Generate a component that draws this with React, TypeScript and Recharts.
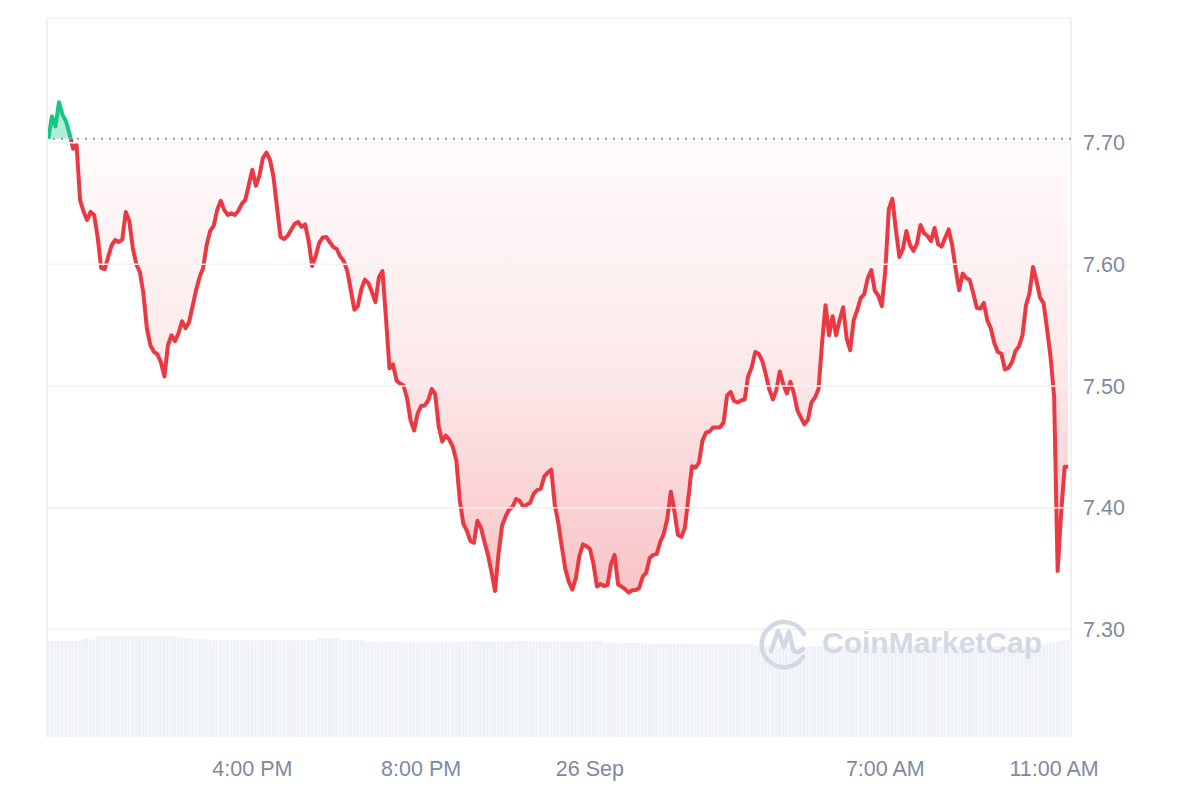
import { ComposedChart, Area, Bar, XAxis, YAxis, ReferenceLine } from 'recharts'

// 5-minute candles, 11:10 AM 25 Sep -> 11:20 AM 26 Sep (minutes since 00:00 25 Sep)
const START_MIN = 670
const STEP_MIN = 5

const prices = [
  7.7033, 7.7217, 7.7134, 7.7332, 7.7231, 7.7176, 7.7074, 7.6951, 7.6984, 7.6530,
  7.6434, 7.6365, 7.6431, 7.6406, 7.6225, 7.5970, 7.5961, 7.6060, 7.6159, 7.6200,
  7.6184, 7.6204, 7.6431, 7.6357, 7.6134, 7.6002, 7.5937, 7.5763, 7.5475, 7.5335,
  7.5281, 7.5261, 7.5195, 7.5079, 7.5335, 7.5417, 7.5368, 7.5434, 7.5533, 7.5475,
  7.5524, 7.5656, 7.5788, 7.5895, 7.5970, 7.6159, 7.6275, 7.6316, 7.6448, 7.6522,
  7.6448, 7.6406, 7.6419, 7.6406, 7.6439, 7.6497, 7.6530, 7.6654, 7.6777, 7.6646,
  7.6728, 7.6876, 7.6918, 7.6860, 7.6720, 7.6472, 7.6225, 7.6209, 7.6233, 7.6283,
  7.6332, 7.6349, 7.6308, 7.6328, 7.6192, 7.5986, 7.6068, 7.6176, 7.6221, 7.6225,
  7.6184, 7.6143, 7.6126, 7.6064, 7.6027, 7.5945, 7.5788, 7.5627, 7.5656, 7.5796,
  7.5875, 7.5846, 7.5772, 7.5689, 7.5895, 7.5945, 7.5557, 7.5145, 7.5178, 7.5046,
  7.5021, 7.5005, 7.4898, 7.4716, 7.4634, 7.4774, 7.4836, 7.4840, 7.4881, 7.4976,
  7.4931, 7.4667, 7.4543, 7.4593, 7.4560, 7.4500, 7.4387, 7.4057, 7.3867, 7.3810,
  7.3727, 7.3711, 7.3892, 7.3834, 7.3719, 7.3612, 7.3472, 7.3315, 7.3620, 7.3851,
  7.3928, 7.3983, 7.4007, 7.4071, 7.4057, 7.4010, 7.4024, 7.4040, 7.4115, 7.4145,
  7.4156, 7.4255, 7.4288, 7.4312, 7.4024, 7.3875, 7.3678, 7.3496, 7.3389, 7.3327,
  7.3422, 7.3603, 7.3698, 7.3682, 7.3661, 7.3538, 7.3352, 7.3373, 7.3356, 7.3364,
  7.3538, 7.3612, 7.3369, 7.3352, 7.3331, 7.3303, 7.3321, 7.3323, 7.3340, 7.3432,
  7.3466, 7.3587, 7.3612, 7.3620, 7.3719, 7.3785, 7.3909, 7.4131, 7.3974, 7.3777,
  7.3760, 7.3834, 7.4082, 7.4341, 7.4329, 7.4370, 7.4551, 7.4617, 7.4626, 7.4659,
  7.4659, 7.4661, 7.4700, 7.4923, 7.4951, 7.4877, 7.4865, 7.4881, 7.4890, 7.5083,
  7.5153, 7.5279, 7.5265, 7.5207, 7.5096, 7.4972, 7.4890, 7.4964, 7.5120, 7.5013,
  7.4939, 7.5034, 7.4939, 7.4799, 7.4741, 7.4685, 7.4725, 7.4865, 7.4906, 7.4975,
  7.5351, 7.5664, 7.5417, 7.5574, 7.5417, 7.5541, 7.5648, 7.5392, 7.5294, 7.5541,
  7.5623, 7.5722, 7.5755, 7.5887, 7.5953, 7.5784, 7.5743, 7.5656, 7.5953, 7.6456,
  7.6538, 7.6283, 7.6060, 7.6126, 7.6275, 7.6159, 7.6110, 7.6171, 7.6324, 7.6258,
  7.6233, 7.6192, 7.6299, 7.6167, 7.6146, 7.6217, 7.6287, 7.6159, 7.5961, 7.5788,
  7.5924, 7.5887, 7.5871, 7.5763, 7.5643, 7.5636, 7.5683, 7.5541, 7.5475, 7.5351,
  7.5279, 7.5265, 7.5137, 7.5149, 7.5195, 7.5288, 7.5326, 7.5417, 7.5664, 7.5761,
  7.5978, 7.5862, 7.5726, 7.5681, 7.5467, 7.5236, 7.4914, 7.3480, 7.3958, 7.4337,
  7.4337,
]

// volume per candle (relative units, drawn on a hidden axis)
const volumes = [
  13.3, 13.35, 13.35, 13.35, 13.35, 13.35, 13.35, 13.4, 13.35, 13.35,
  13.6, 13.7, 13.55, 13.6, 14.0, 14.05, 14.05, 14.05, 14.05, 14.05,
  14.05, 14.1, 14.05, 14.05, 14.05, 14.05, 14.05, 14.05, 14.05, 14.05,
  14.05, 14.05, 14.05, 14.05, 14.05, 14.05, 14.05, 13.75, 13.75, 13.75,
  13.75, 13.75, 13.6, 13.7, 13.6, 13.6, 13.45, 13.45, 13.45, 13.45,
  13.45, 13.45, 13.45, 13.45, 13.45, 13.45, 13.45, 13.45, 13.45, 13.45,
  13.45, 13.45, 13.45, 13.45, 13.45, 13.45, 13.45, 13.45, 13.45, 13.45,
  13.45, 13.45, 13.45, 13.45, 13.45, 13.45, 13.45, 13.75, 13.75, 13.75,
  13.75, 13.75, 13.75, 13.75, 13.5, 13.5, 13.5, 13.5, 13.5, 13.5,
  13.2, 13.2, 13.2, 13.2, 13.2, 13.2, 13.2, 13.2, 13.2, 13.2,
  13.2, 13.2, 13.2, 13.2, 13.2, 13.2, 13.2, 13.2, 13.2, 13.2,
  13.2, 13.2, 13.2, 13.2, 13.2, 13.2, 13.2, 13.2, 13.3, 13.3,
  13.3, 13.3, 13.3, 13.3, 13.3, 13.3, 13.3, 13.3, 13.3, 13.3,
  13.3, 13.3, 13.3, 13.3, 13.3, 13.3, 13.35, 13.3, 13.3, 13.3,
  13.3, 13.3, 13.3, 13.3, 13.3, 13.3, 13.3, 13.3, 13.3, 13.3,
  13.3, 13.3, 13.3, 13.3, 13.3, 13.3, 13.3, 13.3, 13.05, 13.05,
  13.05, 13.05, 13.05, 13.05, 13.05, 13.05, 13.05, 13.05, 13.05, 13.05,
  13.0, 13.0, 13.0, 13.0, 13.0, 13.0, 13.0, 13.0, 13.0, 13.0,
  13.0, 13.0, 13.0, 13.0, 13.0, 13.0, 13.0, 13.0, 13.0, 12.95,
  12.95, 12.95, 12.95, 12.95, 12.95, 12.95, 12.95, 12.95, 12.95, 12.95,
  12.9, 12.6, 12.6, 12.6, 12.6, 12.6, 12.6, 12.6, 12.6, 12.6,
  12.6, 12.6, 12.6, 12.6, 12.6, 12.6, 12.6, 12.6, 12.6, 12.6,
  12.6, 12.6, 12.6, 12.6, 12.6, 12.6, 12.6, 12.6, 12.6, 12.6,
  12.6, 12.6, 12.6, 12.6, 12.6, 12.6, 12.6, 12.6, 12.6, 12.6,
  12.6, 12.6, 12.6, 12.6, 12.6, 12.6, 12.6, 12.6, 12.6, 12.6,
  12.6, 12.6, 12.6, 12.6, 12.6, 12.6, 12.6, 12.6, 12.6, 12.6,
  12.6, 12.6, 12.6, 12.6, 12.6, 12.6, 12.6, 12.6, 12.6, 12.6,
  12.6, 12.6, 12.6, 12.6, 12.6, 12.6, 12.6, 12.6, 12.6, 12.6,
  12.6, 12.6, 12.6, 12.8, 12.9, 13.0, 13.1, 13.25, 13.35, 13.45,
  13.5,
]

const xTicks = [960, 1200, 1440, 1860, 2100]
const xTickLabels = ['4:00 PM', '8:00 PM', '26 Sep', '7:00 AM', '11:00 AM']
const yTicks = [7.3, 7.4, 7.5, 7.6, 7.7]

const X_DOMAIN: [number, number] = [668, 2124]
const Y_DOMAIN: [number, number] = [7.2115, 7.8025]

const COLORS = {
  up: '#16c784',
  down: '#ea3943',
  grid: '#eff2f5',
  tick: '#808a9d',
  dots: '#9b9b9b',
  volume: '#eef1f5',
  watermark: '#d3d9e4',
}

const FONT = '"Liberation Sans", Arial, Helvetica, sans-serif'

const data = prices.map((price, i) => ({
  t: START_MIN + i * STEP_MIN,
  price,
  vol: volumes[i],
}))

const base = prices[0]
const maxP = Math.max(...prices)
const minP = Math.min(...prices)
const splitOff = (maxP - base) / (maxP - minP)

function Watermark() {
  return (
    <svg width={1184} height={784} style={{ position: 'absolute', left: 0, top: 0, pointerEvents: 'none' }}>
      <g transform="translate(775,632)" fill="none" stroke={COLORS.watermark} strokeWidth={4.5} strokeLinecap="round" strokeLinejoin="round">
        <path d="M 20 17 A 22.5 22.5 0 1 1 21 -6" />
        <path d="M -12 11 L -5 -9 L 1 7 L 6 -8 L 10 9 Q 13 15 20 9" />
      </g>
      <text x={814} y={644.5} fontFamily={FONT} fontWeight={700} fontSize={30} fill={COLORS.watermark}>
        CoinMarketCap
      </text>
    </svg>
  )
}

export default function App() {
  return (
    <div style={{ position: 'relative', width: 1184, height: 784, background: '#fff' }}>
      <ComposedChart width={1184} height={784} data={data} margin={{ top: 10, right: 41, left: 39, bottom: 15 }}>
        <defs>
          <linearGradient id="lineStroke" x1="0" y1="0" x2="0" y2="1">
            <stop offset={0} stopColor={COLORS.up} />
            <stop offset={splitOff} stopColor={COLORS.up} />
            <stop offset={splitOff} stopColor={COLORS.down} />
            <stop offset={1} stopColor={COLORS.down} />
          </linearGradient>
          <linearGradient id="areaFill" x1="0" y1="0" x2="0" y2="1">
            <stop offset={0} stopColor={COLORS.up} stopOpacity={0.33} />
            <stop offset={splitOff} stopColor={COLORS.up} stopOpacity={0.33} />
            <stop offset={splitOff} stopColor={COLORS.down} stopOpacity={0.02} />
            <stop offset={splitOff + (1 - splitOff) * 0.5} stopColor={COLORS.down} stopOpacity={0.11} />
            <stop offset={1} stopColor={COLORS.down} stopOpacity={0.3} />
          </linearGradient>
        </defs>
        <XAxis
          dataKey="t"
          type="number"
          domain={X_DOMAIN}
          ticks={xTicks}
          tickFormatter={(v: number) => xTickLabels[xTicks.indexOf(v)] ?? ''}
          axisLine={false}
          tickLine={false}
          tickMargin={18}
          height={40}
          tick={{ fontSize: 21.5, fill: COLORS.tick, fontFamily: FONT }}
          allowDataOverflow
        />
        <YAxis
          yAxisId="price"
          orientation="right"
          type="number"
          domain={Y_DOMAIN}
          ticks={yTicks}
          tickFormatter={(v: number) => v.toFixed(2)}
          axisLine={false}
          tickLine={false}
          tickMargin={6}
          width={80}
          tick={{ fontSize: 21.5, fill: COLORS.tick, fontFamily: FONT }}
          allowDataOverflow
        />
        <YAxis yAxisId="vol" hide domain={[0, 100]} />

        {yTicks.map((v) => (
          <ReferenceLine key={v} yAxisId="price" y={v} stroke={COLORS.grid} strokeWidth={1.5} />
        ))}
        <ReferenceLine yAxisId="price" y={Y_DOMAIN[1]} stroke={COLORS.grid} strokeWidth={1.5} />
        <ReferenceLine yAxisId="price" x={X_DOMAIN[0]} stroke={COLORS.grid} strokeWidth={2} />
        <ReferenceLine yAxisId="price" x={X_DOMAIN[1]} stroke={COLORS.grid} strokeWidth={2} />

        <Bar yAxisId="vol" dataKey="vol" fill={COLORS.volume} barSize={3} isAnimationActive={false} />

        <ReferenceLine yAxisId="price" y={base} stroke={COLORS.dots} strokeWidth={2} strokeDasharray="2 6" />

        <Area
          yAxisId="price"
          type="linear"
          dataKey="price"
          baseValue={base}
          stroke="url(#lineStroke)"
          strokeWidth={4}
          strokeLinejoin="round"
          fill="url(#areaFill)"
          fillOpacity={1}
          dot={false}
          activeDot={false}
          isAnimationActive={false}
        />
      </ComposedChart>
      <Watermark />
    </div>
  )
}
